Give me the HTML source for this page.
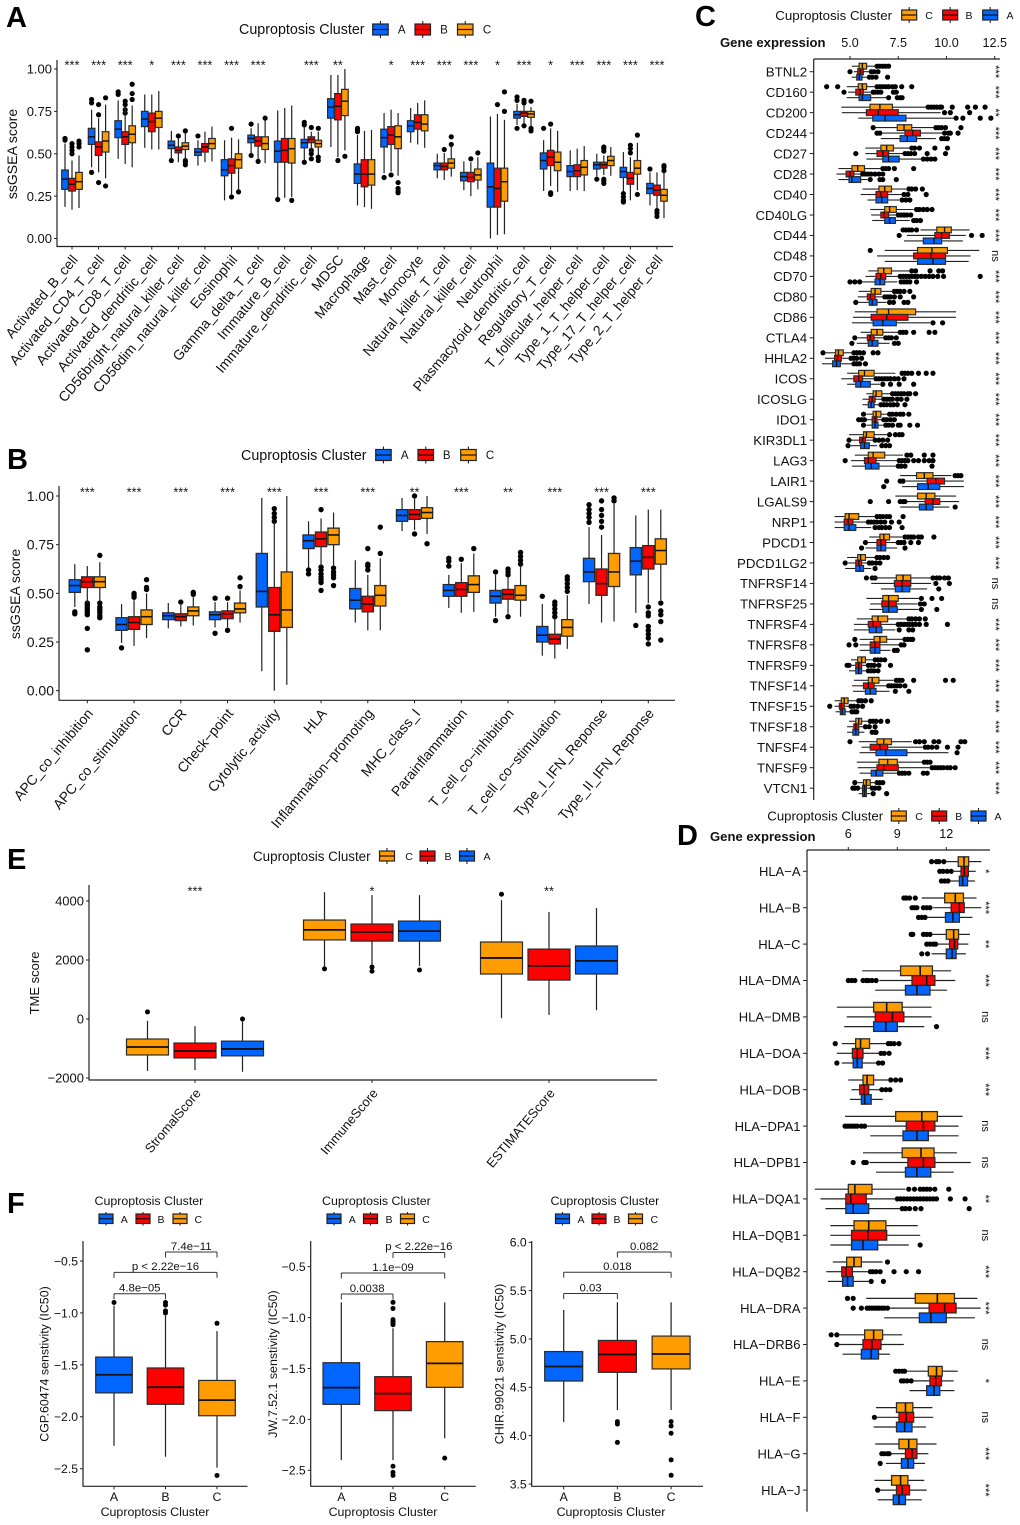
<!DOCTYPE html>
<html lang="en">
<head>
<meta charset="utf-8">
<title>Cuproptosis cluster immune landscape</title>
<style>
html,body{margin:0;padding:0;background:#fff;}
svg{display:block;font-family:"Liberation Sans",Arial,sans-serif;}
text{fill:#111;}
.letter{font-weight:700;font-size:29px;fill:#000;}
.lg14{font-size:14.3px;}
.lg13{font-size:13.3px;}
.lg12{font-size:12.4px;}
.lk11{font-size:11.5px;}
.lk10{font-size:10.5px;}
.gene{font-weight:700;font-size:13.1px;}
</style>
</head>
<body>
<svg id="fig" xmlns="http://www.w3.org/2000/svg" width="1020" height="1525" viewBox="0 0 1020 1525">
<rect x="0" y="0" width="1020" height="1525" fill="#fff"/>
<text class="letter" x="6" y="27">A</text>
<text class="letter" x="7" y="469">B</text>
<text class="letter" x="695" y="26">C</text>
<text class="letter" x="677" y="845">D</text>
<text class="letter" x="7" y="869">E</text>
<text class="letter" x="7" y="1213">F</text>

<g>
<text class="lg14" x="239" y="34">Cuproptosis Cluster</text>
<text class="lk11" x="401.7" y="33.5" text-anchor="middle">A</text>
<text class="lk11" x="444" y="33.5" text-anchor="middle">B</text>
<text class="lk11" x="487" y="33.5" text-anchor="middle">C</text>
</g>
<g>
<text class="lg14" x="241" y="460">Cuproptosis Cluster</text>
<text class="lk11" x="404.7" y="459" text-anchor="middle">A</text>
<text class="lk11" x="446.7" y="459" text-anchor="middle">B</text>
<text class="lk11" x="490" y="459" text-anchor="middle">C</text>
</g>
<g>
<text class="lg13" x="775.3" y="20">Cuproptosis Cluster</text>
<text class="lk10" x="929" y="19" text-anchor="middle">C</text>
<text class="lk10" x="969" y="19" text-anchor="middle">B</text>
<text class="lk10" x="1010" y="19" text-anchor="middle">A</text>
<text class="gene" x="720" y="47">Gene expression</text>
</g>
<g>
<text class="lg13" x="767.3" y="820.5" style="font-size:13.2px">Cuproptosis Cluster</text>
<text class="lk10" x="919" y="820" text-anchor="middle">C</text>
<text class="lk10" x="958.7" y="820" text-anchor="middle">B</text>
<text class="lk10" x="998" y="820" text-anchor="middle">A</text>
<text class="gene" x="710" y="841">Gene expression</text>
</g>
<g>
<text class="lg12" x="253" y="861" style="font-size:13.4px">Cuproptosis Cluster</text>
<text class="lk10" x="409" y="860" text-anchor="middle">C</text>
<text class="lk10" x="448" y="860" text-anchor="middle">B</text>
<text class="lk10" x="487" y="860" text-anchor="middle">A</text>
</g>
<g>
<text class="lg12" x="94.5" y="1205">Cuproptosis Cluster</text>
<text class="lk10" x="124.3" y="1223" text-anchor="middle">A</text>
<text class="lk10" x="161" y="1223" text-anchor="middle">B</text>
<text class="lk10" x="198.3" y="1223" text-anchor="middle">C</text>
<text class="lg12" x="155" y="1516" text-anchor="middle">Cuproptosis Cluster</text>
<text class="lg12" transform="translate(48.5 1364) rotate(-90)" text-anchor="middle">CGP.60474 senstivity (IC50)</text>
</g>
<g>
<text class="lg12" x="322" y="1205">Cuproptosis Cluster</text>
<text class="lk10" x="352.3" y="1223" text-anchor="middle">A</text>
<text class="lk10" x="389" y="1223" text-anchor="middle">B</text>
<text class="lk10" x="426" y="1223" text-anchor="middle">C</text>
<text class="lg12" x="383" y="1516" text-anchor="middle">Cuproptosis Cluster</text>
<text class="lg12" transform="translate(277 1364) rotate(-90)" text-anchor="middle">JW.7.52.1 senstivity (IC50)</text>
</g>
<g>
<text class="lg12" x="550.5" y="1205">Cuproptosis Cluster</text>
<text class="lk10" x="581" y="1223" text-anchor="middle">A</text>
<text class="lk10" x="617" y="1223" text-anchor="middle">B</text>
<text class="lk10" x="654.3" y="1223" text-anchor="middle">C</text>
<text class="lg12" x="611" y="1516" text-anchor="middle">Cuproptosis Cluster</text>
<text class="lg12" transform="translate(503.5 1364) rotate(-90)" text-anchor="middle">CHIR.99021 senstivity (IC50)</text>
</g>
<text transform="translate(17 154) rotate(-90)" text-anchor="middle" font-size="14">ssGSEA score</text>
<text transform="translate(20 594) rotate(-90)" text-anchor="middle" font-size="14">ssGSEA score</text>
<text transform="translate(39 983) rotate(-90)" text-anchor="middle" font-size="13">TME score</text>
</svg>
<script>
/* ---------- colours ---------- */
const BLUE = '#0066FF', RED = '#FF0000', ORANGE = '#FF9C00';

/* ---------- Panel A data: [low, q1, median, q3, high, outliers] ---------- */
const panelACategories = ['Activated_B_cell','Activated_CD4_T_cell','Activated_CD8_T_cell','Activated_dendritic_cell','CD56bright_natural_killer_cell','CD56dim_natural_killer_cell','Eosinophil','Gamma_delta_T_cell','Immature_B_cell','Immature_dendritic_cell','MDSC','Macrophage','Mast_cell','Monocyte','Natural_killer_T_cell','Natural_killer_cell','Neutrophil','Plasmacytoid_dendritic_cell','Regulatory_T_cell','T_follicular_helper_cell','Type_1_T_helper_cell','Type_17_T_helper_cell','Type_2_T_helper_cell'];
const panelASignificance = ['***','***','***','*','***','***','***','***','','***','**','','*','***','***','***','*','***','*','***','***','***','***'];
const panelATicks = [0,0.25,0.5,0.75,1];
const panelATickLabels = ['0.00','0.25','0.50','0.75','1.00'];
const panelAClusterA = [
[.187,.29,.35,.404,.56,[.59,.58]],[.42,.555,.60,.65,.76,[.82,.80,.39]],[.47,.595,.645,.695,.815,[.865,.85]],[.535,.66,.705,.75,.85],[.47,.53,.55,.575,.635,[.46]],[.43,.49,.51,.53,.58,[.605]],[.225,.37,.405,.465,.58],[.50,.565,.59,.61,.65,[.675,.49]],[.245,.45,.515,.575,.755,[.23]],[.46,.535,.565,.585,.66,[.685,.67,.45]],[.54,.71,.775,.825,.965],[.195,.325,.38,.44,.61,[.65,.64,.63]],[.385,.54,.595,.645,.74,[.36]],[.565,.63,.665,.695,.77],[.355,.405,.43,.445,.50],[.285,.34,.365,.39,.455],[0,.185,.305,.445,.72],[.67,.71,.73,.75,.795,[.835,.815,.65]],[.28,.41,.46,.505,.58,[.65]],[.28,.365,.395,.43,.52],[.365,.41,.435,.45,.50,[.35]],[.28,.36,.395,.42,.51,[.265,.245,.225,.215]],[.195,.265,.295,.325,.39,[.41]]];
const panelAClusterB = [
[.17,.28,.32,.355,.46,[.56,.54,.52,.50]],[.39,.49,.54,.57,.71,[.79,.73,.33]],[.44,.555,.60,.63,.77,[.81,.79,.76,.74]],[.525,.63,.69,.74,.85],[.45,.505,.52,.54,.59,[.605]],[.45,.51,.54,.56,.63],[.255,.385,.43,.47,.595,[.65,.245]],[.465,.545,.575,.60,.68,[.455]],[.24,.45,.52,.59,.77],[.51,.565,.585,.60,.63,[.655,.52,.50,.47]],[.48,.70,.78,.855,.965,[.46]],[.185,.305,.38,.465,.635],[.395,.555,.61,.66,.76,[.375]],[.555,.645,.685,.73,.80],[.345,.405,.425,.445,.505,[.525]],[.25,.335,.36,.39,.45,[.47]],[.02,.185,.295,.415,.735,[.79]],[.68,.72,.74,.75,.79,[.815,.80,.665]],[.31,.43,.48,.52,.65,[.675,.27,.26]],[.285,.365,.40,.435,.53],[.375,.415,.435,.45,.49,[.54,.53,.515,.35,.34,.325]],[.225,.32,.355,.39,.48,[.55,.53,.505]],[.175,.255,.285,.315,.39,[.165,.15,.13]]];
const panelAClusterC = [
[.18,.29,.335,.39,.49,[.575,.56,.54]],[.355,.51,.575,.63,.79,[.83,.31]],[.42,.565,.615,.665,.785,[.91,.855,.82]],[.525,.655,.71,.75,.87],[.465,.525,.545,.565,.62,[.635,.46,.45,.435]],[.455,.53,.56,.59,.66],[.285,.415,.465,.50,.585,[.275]],[.445,.525,.56,.60,.695,[.71]],[.245,.445,.53,.59,.785,[.225]],[.49,.54,.56,.58,.63,[.65,.48,.46]],[.52,.725,.81,.88,1.0,[.485]],[.175,.315,.38,.465,.64],[.37,.53,.60,.665,.74,[.33,.295,.28,.27]],[.535,.635,.675,.73,.815],[.365,.415,.445,.47,.55,[.60,.555]],[.29,.345,.375,.41,.48,[.505]],[.025,.22,.335,.415,.70,[.865,.75]],[.66,.715,.735,.75,.775,[.81,.65,.635]],[.275,.40,.45,.51,.635],[.28,.375,.42,.46,.545],[.37,.43,.46,.485,.54],[.285,.38,.415,.46,.565,[.61,.26]],[.12,.22,.255,.29,.39,[.43,.42,.40]]];

/* ---------- Panel B data ---------- */
const panelBCategories = ['APC_co_inhibition','APC_co_stimulation','CCR','Check\u2212point','Cytolytic_activity','HLA','Inflammation\u2212promoting','MHC_class_I','Parainflammation','T_cell_co\u2212inhibition','T_cell_co\u2212stimulation','Type_I_IFN_Reponse','Type_II_IFN_Reponse'];
const panelBSignificance = ['***','***','***','***','***','***','***','**','***','**','***','***','***'];
const panelBTicks = [0,0.25,0.5,0.75,1];
const panelBTickLabels = ['0.00','0.25','0.50','0.75','1.00'];
const panelBClusterA = [
[.43,.505,.54,.57,.65,[.405,.395]],[.245,.31,.34,.375,.445,[.22]],[.32,.365,.385,.40,.45],[.325,.365,.39,.405,.455,[.475,.295]],[.10,.43,.51,.705,.99],[.63,.73,.77,.80,.87,[.62,.60]],[.35,.42,.465,.525,.67],[.82,.87,.90,.93,.99],[.425,.485,.515,.545,.595,[.68,.665,.64]],[.38,.45,.485,.515,.595,[.61,.36]],[.18,.25,.285,.33,.445,[.485]],[.445,.56,.61,.68,.84,[.955,.93,.91,.89,.865]],[.40,.595,.665,.735,.90,[.335]]];
const panelBClusterB = [
[.45,.53,.56,.585,.64,[.45,.44,.43,.42,.41,.40,.39,.32,.21]],[.23,.315,.35,.38,.465,[.50,.49,.48]],[.33,.36,.38,.395,.44,[.455]],[.325,.37,.395,.41,.455,[.475,.31]],[0,.305,.39,.53,.86,[.935,.91,.89,.87]],[.64,.74,.78,.815,.885,[.93,.635,.62,.60,.585,.57,.555,.515]],[.31,.405,.445,.485,.595,[.73,.65,.64,.62]],[.825,.88,.905,.93,.985,[1.0,.805]],[.40,.485,.52,.555,.655,[.675]],[.395,.47,.495,.52,.585,[.625,.61,.595,.38]],[.165,.24,.265,.29,.37,[.455,.44,.42,.40,.38]],[.35,.49,.55,.625,.80,[.975,.93,.90,.87,.84]],[.45,.625,.685,.745,.93,[.43,.40,.385,.33,.31,.29,.27,.24]]];
const panelBClusterC = [
[.46,.53,.56,.585,.66,[.695,.45,.43,.42,.41,.40,.385,.375]],[.27,.34,.38,.415,.50,[.57,.53,.52]],[.335,.385,.41,.43,.48,[.505,.495]],[.35,.40,.42,.45,.515,[.58,.535]],[.03,.325,.415,.61,1.0],[.64,.75,.80,.835,.915,[.63,.61,.595,.58,.54]],[.31,.435,.49,.54,.68,[.84,.705]],[.805,.885,.915,.94,1.0,[.755]],[.405,.505,.545,.59,.705,[.73]],[.38,.465,.49,.54,.645,[.71,.69,.67,.65]],[.215,.28,.325,.365,.49,[.585,.57,.55,.53,.51]],[.355,.535,.61,.705,.96,[.99,.975]],[.465,.65,.72,.78,.93,[.45,.41,.39,.355,.26]]];

/* ---------- Panel C data ---------- */
const panelCGenes = ['BTNL2','CD160','CD200','CD244','CD27','CD28','CD40','CD40LG','CD44','CD48','CD70','CD80','CD86','CTLA4','HHLA2','ICOS','ICOSLG','IDO1','KIR3DL1','LAG3','LAIR1','LGALS9','NRP1','PDCD1','PDCD1LG2','TNFRSF14','TNFRSF25','TNFRSF4','TNFRSF8','TNFRSF9','TNFSF14','TNFSF15','TNFSF18','TNFSF4','TNFSF9','VTCN1'];
const panelCSignificance = ['***','***','**','***','***','***','***','***','***','ns','***','***','***','***','***','***','***','***','***','***','***','***','***','***','***','ns','ns','***','***','***','***','***','***','***','***','***'];
const panelCTicks = [5,7.5,10,12.5];
const panelCTickLabels = ['5.0','7.5','10.0','12.5'];
const panelCClusterC = [
[5.09,5.47,5.64,5.86,6.33,[6.4,6.55,6.7,6.85,7.0]],
[4.83,5.43,5.64,5.86,6.3,[3.79,4.36,6.4,6.55,6.7,6.85,7.0,7.2,7.35,7.68,8.2]],
[4.55,6.04,6.55,7.2,8.95,[9.05,9.2,9.35,9.5,9.65,9.75,10.3,11.1,11.5,12.0]],
[6.3,7.45,7.8,8.2,9.35,[6.2,9.45,9.6,9.75,9.95,10.75]],
[5.8,6.6,6.9,7.25,8.1,[8.2,8.35,8.6,9.4,10.05]],
[4.4,5.1,5.4,5.75,6.6,[6.7,6.85,7.0,7.3,8.3]],
[5.65,6.5,6.8,7.15,7.9,[8.05,8.2,8.4,8.75]],
[6.05,6.8,7.05,7.4,8.3,[8.45,8.6,8.8,9.0,9.25]],
[8.65,9.5,9.9,10.25,11.2,[7.75,7.9,8.05,8.2,8.45]],
[6.8,8.5,9.25,10.05,11.7,[6.05]],
[5.95,6.45,6.75,7.15,8.1,[8.2,8.4,9.15,9.6,9.8]],
[5.45,6.1,6.3,6.6,7.25,[7.3,7.45,7.6,7.8,8.1]],
[5.25,6.4,7.0,8.4,10.5],
[5.55,6.1,6.4,6.7,7.5,[7.6,7.75,7.9,8.3,9.1,9.4]],
[3.7,4.25,4.4,4.65,5.15,[3.6,5.2,5.35,5.5,5.7,6.2,6.45]],
[4.85,5.45,5.75,6.25,7.35,[7.7,7.85,8.0,8.2,8.55,8.95,9.3]],
[5.85,6.2,6.35,6.65,7.1,[7.2,7.35,7.5,7.65,7.8,8.0,8.1,8.4]],
[5.85,6.2,6.35,6.6,7.0,[5.7,7.05,7.2,7.4,7.6,7.75,8.05]],
[4.95,5.7,5.85,6.25,6.95,[7.05,7.35,7.55,7.7]],
[5.25,5.95,6.2,6.8,7.75,[7.95,8.15,8.85,9.3]],
[7.6,8.45,8.85,9.3,10.25,[10.45,10.6,10.75]],
[7.35,8.5,8.95,9.4,10.5],
[4.2,4.75,4.95,5.45,6.3,[6.4,6.55,6.7,6.9,7.05,7.75]],
[6.0,6.55,6.75,7.05,7.7,[7.85,8.0,8.15,8.3,8.55,8.7,9.35]],
[4.85,5.4,5.55,5.8,6.3,[6.4,6.55,6.75,6.95]],
[6.1,7.4,7.75,8.15,9.2,[5.85,6.15,6.3,9.3,9.5,9.65,9.9,10.1]],
[5.85,6.7,7.0,7.5,8.6,[8.7,9.25,9.75]],
[5.35,6.15,6.45,6.95,7.95,[8.05,8.2,8.4,8.6,8.9]],
[5.5,6.25,6.55,6.9,7.75,[5.25,7.85,8.0,8.15,8.25]],
[5.05,5.4,5.6,5.8,6.2,[6.3,6.45,6.6,6.8]],
[5.2,5.95,6.15,6.5,7.25,[7.4,7.55,7.7,8.3,9.95,10.35]],
[4.2,4.55,4.7,4.9,5.35,[5.45,5.6,5.8,6.1]],
[4.95,5.3,5.45,5.6,6.0,[6.05,6.2,6.35,6.6,6.95]],
[5.45,6.4,6.75,7.15,8.2,[5.0,8.4,8.6,8.85,9.35,9.6,10.75,10.95]],
[5.35,6.5,6.95,7.45,8.75,[8.85,9.0,9.15]],
[5.4,5.7,5.85,6.05,6.35,[5.25,6.4,6.55,6.7]]];
const panelCClusterB = [
[5.2,5.4,5.54,5.69,6.0,[5.0,6.1,6.25,6.45]],
[4.9,5.3,5.52,5.69,6.1,[4.69,6.2,6.3,6.45,6.6,7.25,7.4]],
[4.58,5.85,6.47,7.5,9.7,[9.9,10.2,11.2]],
[6.7,7.85,8.25,8.65,9.8,[6.4,6.55,9.9,10.1,10.2,10.6]],
[5.8,6.4,6.7,7.0,7.75,[5.3,7.85,8.0,8.15,8.35,9.0,9.95]],
[4.3,4.8,5.0,5.2,5.6,[5.65,5.8,5.95,6.1,6.3,6.5,6.7]],
[5.55,6.35,6.6,6.95,7.7,[7.8,8.0,8.95]],
[6.1,6.6,6.75,7.0,7.4,[7.5,7.65,7.8,7.95,8.15]],
[7.95,9.4,9.75,10.15,11.0,[7.55,11.3,11.85]],
[6.4,8.3,9.2,9.95,11.25],
[5.8,6.35,6.6,6.85,7.5,[7.6,7.75,7.9,8.05,8.2,8.35,8.5,8.7,8.9,9.1,9.3,9.55,9.85,11.75]],
[5.4,5.9,6.05,6.3,6.7,[6.8,6.95,7.1,7.3,7.6,8.3]],
[5.15,6.1,6.9,8.0,10.5],
[5.4,5.9,6.05,6.25,6.7,[5.25,6.85,7.0,7.15,7.4]],
[3.7,4.2,4.35,4.55,4.95,[5.05,5.2,5.35,5.6]],
[4.55,5.2,5.45,5.65,6.25,[6.35,6.5,6.65,6.8,6.95,7.1,7.3,7.5,7.8]],
[5.65,6.0,6.15,6.3,6.65,[6.75,6.9,7.05,7.2,7.45,7.65,7.95]],
[5.85,6.15,6.3,6.4,6.65,[5.45,5.6,5.75,6.75,6.9,7.1,7.3]],
[5.05,5.5,5.65,5.8,6.25,[4.95,6.3,6.5,6.7,6.95]],
[5.05,5.75,5.95,6.35,7.5,[4.75,7.55,7.7,7.85,8.0,8.3,8.55,8.85,9.1,9.3]],
[7.9,9.0,9.45,9.9,10.9,[6.9,7.6,7.75]],
[7.95,8.9,9.3,9.65,10.65,[6.05,7.0,7.6,7.75,7.85]],
[4.2,4.7,4.9,5.15,5.85,[5.95,6.1,6.25,6.4,6.6,6.8,7.15,7.55]],
[5.9,6.4,6.6,6.85,7.4,[5.8,7.5,7.65,7.8,8.15,8.55]],
[4.9,5.3,5.45,5.6,5.95,[4.75,6.0,6.15,6.35,6.55]],
[6.1,7.3,7.7,8.15,9.2,[9.45,10.15]],
[6.05,6.65,7.0,7.4,8.5,[8.65,8.85]],
[5.2,5.95,6.2,6.6,7.4,[7.5,7.65,7.8,7.95,8.1,8.25,8.4,8.6,8.95,10.05]],
[5.5,6.05,6.3,6.55,7.55,[4.95,5.3,7.65,7.8]],
[5.0,5.3,5.45,5.6,5.85,[4.85,4.95,5.95,6.1,6.25,6.5,7.1]],
[5.1,5.7,5.95,6.25,6.9,[7.0,7.15,7.3,7.45,7.6,7.85]],
[4.2,4.45,4.55,4.7,4.95,[3.95,5.05,5.2,5.4,5.65]],
[4.85,5.2,5.3,5.45,5.7,[5.8,6.0,6.3]],
[5.6,6.05,6.55,6.95,8.75,[8.9,9.05,9.25,9.5,10.05,10.6]],
[5.4,6.4,6.75,7.5,9.1,[9.25,9.4,9.55,9.7,9.85,10.05,10.2,10.45]],
[5.45,5.65,5.75,5.85,6.05,[5.15,5.25,5.4,6.15,6.3,6.5]]];
const panelCClusterA = [
[5.09,5.35,5.48,5.62,5.95,[6.0,6.15,6.35,6.95]],
[4.83,5.47,5.64,6.07,6.9,[7.0,7.45,7.6,7.7]],
[5.43,6.18,6.82,7.9,10.4,[10.5,10.85,11.75,12.3]],
[6.6,7.6,7.97,8.45,9.45,[9.75,9.9,10.05]],
[5.85,6.7,7.0,7.55,8.7,[8.8,9.0,9.2,9.4]],
[4.4,4.95,5.1,5.55,5.9,[6.05,6.55,6.7,7.4]],
[5.9,6.35,6.65,6.95,7.55,[7.7,7.9,8.1]],
[6.15,6.8,7.05,7.35,8.1,[8.3,8.45,8.65]],
[7.8,8.8,9.35,9.75,10.85],
[6.8,8.5,9.3,9.95,11.15],
[5.6,6.3,6.55,6.8,7.45,[5.0,5.25,5.5,7.65,7.8,7.95,8.1,8.45]],
[5.4,6.0,6.15,6.4,6.9,[5.3,7.05,7.25,7.8,8.0]],
[5.1,6.2,6.7,7.4,9.15,[9.3,9.8]],
[5.35,5.95,6.15,6.45,7.05,[5.1,7.3,7.5]],
[3.55,4.1,4.3,4.5,5.1,[5.2,5.35,5.5,5.8]],
[4.85,5.3,5.55,6.05,6.55,[6.7,7.1,7.55,8.3]],
[5.65,5.95,6.1,6.25,6.55,[6.6,6.75,6.9,7.1,7.25,7.45,7.85]],
[5.85,6.15,6.3,6.45,6.7,[5.7,6.85,7.0,7.2,7.5,7.6,8.1,8.5]],
[5.05,5.55,5.75,6.0,6.4,[4.9,6.65,6.85,7.05]],
[5.1,5.8,6.1,6.5,7.4,[7.5,7.65,7.85,9.25]],
[7.7,8.5,9.05,9.65,10.9,[6.75]],
[7.6,8.6,8.95,9.3,10.15,[10.45]],
[4.2,4.7,4.95,5.3,6.1,[6.3,6.5,6.65,6.85,7.05,7.7]],
[5.8,6.4,6.6,6.85,7.45,[5.6,7.85]],
[4.75,5.3,5.5,5.7,6.1,[6.3]],
[6.6,7.35,7.7,8.1,9.0,[9.6]],
[6.0,6.7,7.0,7.45,8.55,[8.7,9.5]],
[5.2,6.0,6.35,6.65,7.35,[7.55,8.05,8.25]],
[5.5,6.05,6.3,6.55,7.1,[7.3,7.45]],
[4.95,5.3,5.45,5.6,5.85,[5.95,6.1,6.25,6.45]],
[5.15,5.8,6.05,6.35,7.05,[7.35,8.05]],
[4.25,4.5,4.6,4.75,5.0,[5.1,5.25,5.35]],
[4.85,5.15,5.3,5.45,5.75,[6.15,6.3,6.35]],
[5.5,6.35,6.85,7.95,10.1,[10.55]],
[5.5,6.1,6.35,6.7,7.4,[7.55,7.7,7.85,8.05,8.8,9.0]],
[5.45,5.65,5.75,5.85,6.1,[6.2,6.9]]];

/* ---------- Panel D data ---------- */
const panelDGenes = ['HLA\u2212A','HLA\u2212B','HLA\u2212C','HLA\u2212DMA','HLA\u2212DMB','HLA\u2212DOA','HLA\u2212DOB','HLA\u2212DPA1','HLA\u2212DPB1','HLA\u2212DQA1','HLA\u2212DQB1','HLA\u2212DQB2','HLA\u2212DRA','HLA\u2212DRB6','HLA\u2212E','HLA\u2212F','HLA\u2212G','HLA\u2212J'];
const panelDSignificance = ['*','***','**','***','ns','***','***','ns','ns','**','ns','***','***','ns','*','ns','***','***'];
const panelDTicks = [6,9,12];
const panelDTickLabels = ['6','9','12'];
const panelDClusterC = [
[11.95,12.73,13.08,13.37,14.15,[11.1,11.4,11.55,11.85]],
[10.5,11.9,12.55,13.05,13.85,[9.4,9.55,9.75,10.1]],
[11.1,12.0,12.45,12.75,13.45,[9.85,9.95,10.6,10.8,11.0]],
[6.85,9.2,10.4,11.15,12.3],
[5.3,7.55,8.35,9.3,11.1],
[5.6,6.45,6.75,7.3,8.35,[5.2,8.45,8.6,8.8,9.1]],
[6.0,6.9,7.15,7.55,8.55,[8.6,8.9,9.2]],
[5.8,8.9,10.5,11.45,13.0],
[6.9,9.3,10.45,11.25,12.65],
[3.95,6.0,6.4,7.45,9.5,[9.7,10.05,10.4,10.6,10.8,11.0,11.3,12.15]],
[4.9,6.35,7.25,8.3,10.25],
[5.05,5.9,6.35,6.8,8.1,[8.4]],
[7.1,10.1,11.45,12.5,13.9,[5.95,6.3]],
[5.4,7.0,7.55,8.1,9.3,[4.95,5.3]],
[9.6,10.9,11.4,11.75,12.7,[8.9,9.1,9.3,9.45]],
[7.7,8.95,9.5,9.95,11.15],
[7.65,9.1,9.7,10.2,11.4],
[7.6,8.65,9.2,9.65,10.65]];
const panelDClusterB = [
[12.35,12.9,13.1,13.35,13.8,[11.6,11.8,12.05,12.3]],
[11.2,12.3,12.8,13.1,14.15,[9.9,10.05,10.2,10.6,10.8,11.0]],
[11.45,12.2,12.5,12.7,13.35,[10.8,11.0,11.2,11.35]],
[7.9,9.9,10.8,11.3,12.55,[6.0,6.2,6.4,6.9,7.1,7.25,7.45,7.7]],
[5.9,7.65,8.7,9.4,11.1],
[5.3,6.25,6.55,6.9,7.85,[8.0,8.2,8.5]],
[6.2,6.7,6.95,7.25,7.95,[8.05,8.3,8.55]],
[7.1,9.55,10.6,11.3,12.75,[5.8,5.95,6.1,6.25,6.4,6.55,6.8,7.0]],
[7.3,9.65,10.6,11.3,13.5,[6.3,6.95,7.1]],
[4.3,5.85,6.15,7.1,8.95,[9.0,9.2,9.4,9.6,9.8,10.0,10.2,10.4,10.6,10.8,11.0,11.2,11.4,12.25,13.15]],
[4.9,6.2,7.2,8.35,10.4],
[4.65,5.6,5.85,6.25,7.2,[7.35,7.5,7.7,7.95,8.8,9.55,10.3]],
[8.55,10.95,11.9,12.6,14.1,[6.3,6.8,7.15,7.3,7.45,7.6,7.75,7.9,8.05,8.2,8.4]],
[5.4,6.9,7.45,8.0,9.4,[5.3]],
[10.0,11.0,11.35,11.7,12.45,[9.25,9.4,9.6,9.85]],
[7.75,9.1,9.55,10.0,11.2,[7.6]],
[8.55,9.5,9.9,10.2,10.9,[8.05,8.2,8.4,8.5]],
[7.9,8.95,9.3,9.75,10.8,[7.8]]];
const panelDClusterA = [
[12.25,12.8,13.0,13.3,13.75,[11.7,11.9,12.1]],
[10.8,11.95,12.4,12.8,13.6,[10.3,10.5,10.7]],
[11.1,12.0,12.35,12.6,13.2,[10.5,10.85]],
[7.65,9.5,10.2,11.0,12.05],
[5.75,7.55,8.3,9.0,10.65,[11.4]],
[5.6,6.3,6.55,6.85,7.7,[5.3,7.85,8.1]],
[6.1,6.8,7.0,7.4,8.1],
[7.35,9.35,10.2,10.9,12.75],
[7.7,9.5,10.2,11.05,12.45],
[4.6,5.85,6.3,7.25,9.15,[9.3,9.5,9.75,10.1,10.45,13.4]],
[4.9,6.2,6.9,7.8,9.7,[10.4]],
[4.75,5.65,5.95,6.3,7.25,[7.4,8.15]],
[8.2,10.35,11.05,12.0,13.75],
[5.65,6.8,7.4,7.85,8.55],
[9.75,10.8,11.25,11.6,12.5],
[7.55,8.95,9.45,9.9,10.75],
[8.3,9.25,9.65,10.0,10.7,[7.95]],
[7.8,8.75,9.1,9.5,10.5]];

/* ---------- Panel E data ---------- */
const panelECategories = ['StromalScore','ImmuneScore','ESTIMATEScore'];
const panelESignificance = ['***','*','**'];
const panelETicks = [-2000,0,2000,4000];
const panelETickLabels = ['\u22122000','0','2000','4000'];
const panelEClusterC = [[-1760,-1220,-950,-678,-60,[240]],[1760,2680,3020,3355,4300,[1700]],[30,1525,2070,2610,4030,[4230]]];
const panelEClusterB = [[-1730,-1320,-1085,-815,-240],[1830,2640,2950,3220,4200,[1760,1620]],[135,1320,1800,2370,3630]];
const panelEClusterA = [[-1790,-1250,-1015,-750,-70,[0]],[1800,2640,2980,3320,4200,[1660]],[300,1525,1970,2475,3760]];

/* ---------- Panel F data ---------- */
const panelFGroups = ['A','B','C'];
const panelF1Ticks = [-0.5,-1,-1.5,-2,-2.5];
const panelF1TickLabels = ['\u22120.5','\u22121.0','\u22121.5','\u22122.0','\u22122.5'];
const panelF1Boxes = [[-2.28,-1.77,-1.595,-1.425,-.93,[-.90]],[-2.385,-1.88,-1.715,-1.53,-1.02,[-.90,-.925,-.98,-1.0]],[-2.49,-1.99,-1.84,-1.65,-1.175,[-1.10,-2.565]]];
const panelF1Brackets = [[0,1,-.815,'4.8e\u221205'],[0,2,-.61,'p < 2.22e\u221216'],[1,2,-.413,'7.4e\u221211']];
const panelF2Ticks = [-0.5,-1,-1.5,-2,-2.5];
const panelF2TickLabels = ['\u22120.5','\u22121.0','\u22121.5','\u22122.0','\u22122.5'];
const panelF2Boxes = [[-2.4,-1.852,-1.688,-1.443,-.85],[-2.4,-1.914,-1.747,-1.58,-1.105,[-.85,-.91,-1.02,-1.04,-1.055,-1.07,-2.46,-2.52,-2.55]],[-2.185,-1.685,-1.45,-1.236,-.85,[-2.38]]];
const panelF2Brackets = [[0,1,-.768,'0.0038'],[0,2,-.562,'1.1e\u221209'],[1,2,-.36,'p < 2.22e\u221216']];
const panelF3Ticks = [3.5,4,4.5,5,5.5,6];
const panelF3TickLabels = ['3.5','4.0','4.5','5.0','5.5','6.0'];
const panelF3Boxes = [[4.14,4.565,4.715,4.87,5.30],[4.265,4.655,4.84,4.985,5.38,[4.145,4.12,3.93]],[4.265,4.69,4.845,5.03,5.38,[4.145,4.10,4.025,3.75,3.59]]];
const panelF3Brackets = [[0,1,5.47,'0.03'],[0,2,5.69,'0.018'],[1,2,5.90,'0.082']];

/* ---------- helpers ---------- */
const fig = document.getElementById('fig');
const NS = 'http://www.w3.org/2000/svg';
function linear(d0, d1, r0, r1){ return v => r0 + (v - d0) * (r1 - r0) / (d1 - d0); }
function make(tag, parent, attrs){
  const el = document.createElementNS(NS, tag);
  for (const k in attrs) el.setAttribute(k, attrs[k]);
  parent.appendChild(el);
  return el;
}
function seg(parent, x1, y1, x2, y2, width, color, name){
  const el = make('line', parent, {x1, y1, x2, y2, stroke: color, 'stroke-width': width});
  
  
  return el;
}
function label(parent, x, y, str, size, anchor, name, transform){
  const el = make('text', parent, {x, y, 'font-size': size, 'text-anchor': anchor});
  if (transform) el.setAttribute('transform', transform);
  el.textContent = str;
  
  
  return el;
}
function drawBox(parent, stats, center, half, scale, fill, horizontal, st, name){
  const g = make('g', parent, {});
  
  
  const lo = scale(stats[0]), q1 = scale(stats[1]), med = scale(stats[2]), q3 = scale(stats[3]), hi = scale(stats[4]);
  const outs = stats[5] || [];
  outs.forEach(v => {
    const p = scale(v);
    const dot = make('circle', g, {cx: horizontal ? p : center, cy: horizontal ? center : p, r: st.r, fill: '#000'});
    
    
  });
  if (horizontal){
    seg(g, lo, center, q1, center, st.whisker, '#222', 'whisker-low');
    seg(g, q3, center, hi, center, st.whisker, '#222', 'whisker-high');
  } else {
    seg(g, center, lo, center, q1, st.whisker, '#222', 'whisker-low');
    seg(g, center, q3, center, hi, st.whisker, '#222', 'whisker-high');
  }
  const a = Math.min(q1, q3), len = Math.abs(q3 - q1);
  const rect = make('rect', g, horizontal
    ? {x: a, y: center - half, width: len, height: half * 2, fill, stroke: '#2a2a2a', 'stroke-width': st.outline}
    : {x: center - half, y: a, width: half * 2, height: len, fill, stroke: '#2a2a2a', 'stroke-width': st.outline});
  
  
  if (horizontal) seg(g, med, center - half, med, center + half, st.median, '#111', 'median-line');
  else seg(g, center - half, med, center + half, med, st.median, '#111', 'median-line');
}
function legendKey(x, y, w, h, stub, fill, name){
  const g = make('g', fig, {});
  
  
  seg(g, x + w / 2, y - stub, x + w / 2, y + h + stub, 1.1, '#222', 'legend-key-whisker');
  const r = make('rect', g, {x, y, width: w, height: h, fill, stroke: '#222', 'stroke-width': 1.2});
  
  
  seg(g, x, y + h / 2, x + w, y + h / 2, 1.2, '#111', 'legend-key-median');
}
function starsRow(parent, x, y, str, size, name){
  label(parent, x, y + 0.58 * size, str, size, 'middle', name);
}
function rotatedSig(parent, baseX, y, str, name){
  label(parent, baseX, y, str, 11, 'middle', name, 'rotate(90 ' + baseX + ' ' + y + ')');
}

/* ---------- vertical grouped panels ---------- */
function verticalPanel(cfg){
  const g = make('g', fig, {});
  
  
  cfg.categories.forEach((cat, i) => {
    cfg.series.forEach((s, j) => {
      drawBox(g, s.data[i], cfg.x(i) + cfg.offsets[j], cfg.half, cfg.y, s.fill, false, cfg.style, 'box-' + s.key + '-' + i);
    });
    if (cfg.sig[i]) starsRow(g, cfg.sigX ? cfg.sigX(i) : cfg.x(i), cfg.sigY, cfg.sig[i], cfg.sigSize, 'significance-label');
    seg(g, cfg.x(i), cfg.axisY, cfg.x(i), cfg.axisY + 3, 1, '#222', 'x-tick');
    const lx = cfg.x(i) + 6.5, ly = cfg.axisY + 13.5;
    label(g, lx, ly, cat, cfg.catSize, 'end', 'x-tick-label', 'rotate(' + cfg.angle + ' ' + lx + ' ' + ly + ')');
  });
  seg(g, cfg.axisX, cfg.axisTop, cfg.axisX, cfg.axisY + 0.5, 1.2, '#222', 'y-axis-line');
  seg(g, cfg.axisX, cfg.axisY, cfg.axisRight, cfg.axisY, 1.2, '#222', 'x-axis-line');
  cfg.ticks.forEach((t, i) => {
    seg(g, cfg.axisX - 3, cfg.y(t), cfg.axisX, cfg.y(t), 1, '#222', 'y-tick');
    label(g, cfg.axisX - 5, cfg.y(t) + cfg.tickSize * 0.36, cfg.tickLabels[i], cfg.tickSize, 'end', 'y-tick-label');
  });
}

const yA = linear(0, 1, 238.5, 69);
verticalPanel({name: 'panel-a-boxplot', categories: panelACategories, sig: panelASignificance,
  series: [{key: 'a', fill: BLUE, data: panelAClusterA}, {key: 'b', fill: RED, data: panelAClusterB}, {key: 'c', fill: ORANGE, data: panelAClusterC}],
  x: i => 72 + 26.59 * i, y: yA, offsets: [-7, 0, 7], half: 3.3, style: {r: 2.6, whisker: 1.2, outline: 1.2, median: 1.5},
  sigY: 62, sigSize: 12.8, axisX: 57, axisTop: 60, axisY: 246.5, axisRight: 673, ticks: panelATicks, tickLabels: panelATickLabels, tickSize: 13, catSize: 14, angle: -50});

const yB = linear(0, 1, 690.7, 496);
verticalPanel({name: 'panel-b-boxplot', categories: panelBCategories, sig: panelBSignificance,
  series: [{key: 'a', fill: BLUE, data: panelBClusterA}, {key: 'b', fill: RED, data: panelBClusterB}, {key: 'c', fill: ORANGE, data: panelBClusterC}],
  x: i => 87.3 + 46.75 * i, y: yB, offsets: [-12.5, 0, 12.5], half: 5.6, style: {r: 2.7, whisker: 1.2, outline: 1.3, median: 1.6},
  sigY: 489, sigSize: 12.8, axisX: 59, axisTop: 486, axisY: 700.3, axisRight: 675, ticks: panelBTicks, tickLabels: panelBTickLabels, tickSize: 14, catSize: 14, angle: -50});

const yE = linear(0, 4000, 1019, 901);
verticalPanel({name: 'panel-e-boxplot', categories: panelECategories, sig: panelESignificance,
  series: [{key: 'c', fill: ORANGE, data: panelEClusterC}, {key: 'b', fill: RED, data: panelEClusterB}, {key: 'a', fill: BLUE, data: panelEClusterA}],
  x: i => 195 + 177 * i, y: yE, offsets: [-47.5, 0, 47.5], half: 21, style: {r: 2.5, whisker: 1.2, outline: 1.2, median: 1.8},
  sigY: 888, sigSize: 12.8, axisX: 89, axisTop: 885, axisY: 1080, axisRight: 657, ticks: panelETicks, tickLabels: panelETickLabels, tickSize: 13, catSize: 13, angle: -50});

/* ---------- horizontal panels ---------- */
function horizontalPanel(cfg){
  const g = make('g', fig, {});
  
  
  cfg.genes.forEach((gene, i) => {
    cfg.series.forEach((s, j) => {
      drawBox(g, s.data[i], cfg.y(i) + cfg.offsets[j], cfg.half, cfg.x, s.fill, true, cfg.style, 'box-' + s.key + '-' + i);
    });
    seg(g, cfg.axisX - 4, cfg.y(i), cfg.axisX, cfg.y(i), 1, '#222', 'y-tick');
    label(g, cfg.axisX - 6.5, cfg.y(i) + cfg.geneSize * 0.36, gene, cfg.geneSize, 'end', 'gene-label');
    rotatedSig(g, cfg.sigBase, cfg.y(i), cfg.sig[i], 'significance-label');
  });
  seg(g, cfg.axisX, cfg.axisTop, cfg.axisX, cfg.axisBottom, 1.2, '#222', 'y-axis-line');
  seg(g, cfg.axisX, cfg.axisTop, cfg.axisRight, cfg.axisTop, 1.2, '#222', 'x-axis-line');
  cfg.ticks.forEach((t, i) => {
    seg(g, cfg.x(t), cfg.axisTop - 3, cfg.x(t), cfg.axisTop, 1, '#222', 'x-tick');
    label(g, cfg.x(t), cfg.axisTop - 12, cfg.tickLabels[i], 12.6, 'middle', 'x-tick-label');
  });
}
horizontalPanel({name: 'panel-c-boxplot', genes: panelCGenes, sig: panelCSignificance,
  series: [{key: 'c', fill: ORANGE, data: panelCClusterC}, {key: 'b', fill: RED, data: panelCClusterB}, {key: 'a', fill: BLUE, data: panelCClusterA}],
  x: linear(5, 12.5, 850, 994.7), y: i => 71.7 + 20.47 * i, offsets: [-5.5, 0, 5.5], half: 2.9,
  style: {r: 2.6, whisker: 1.1, outline: 1.2, median: 1.4}, sigBase: 992, axisX: 813.7, axisTop: 59, axisBottom: 800, axisRight: 1000,
  ticks: panelCTicks, tickLabels: panelCTickLabels, geneSize: 13.3});
horizontalPanel({name: 'panel-d-boxplot', genes: panelDGenes, sig: panelDSignificance,
  series: [{key: 'c', fill: ORANGE, data: panelDClusterC}, {key: 'b', fill: RED, data: panelDClusterB}, {key: 'a', fill: BLUE, data: panelDClusterA}],
  x: linear(6, 12, 848.3, 946.3), y: i => 871.3 + 36.4 * i, offsets: [-9.7, 0, 9.7], half: 4.8,
  style: {r: 2.6, whisker: 1.2, outline: 1.3, median: 1.6}, sigBase: 982, axisX: 807, axisTop: 850, axisBottom: 1511.7, axisRight: 990,
  ticks: panelDTicks, tickLabels: panelDTickLabels, geneSize: 13});

/* ---------- panel F ---------- */
function drugPanel(cfg){
  const g = make('g', fig, {});
  
  
  const fills = [BLUE, RED, ORANGE];
  panelFGroups.forEach((grp, i) => {
    drawBox(g, cfg.boxes[i], cfg.x(i), cfg.half, cfg.y, fills[i], false, {r: 2.5, whisker: 1.2, outline: 1.2, median: 1.8}, 'box-' + grp);
    seg(g, cfg.x(i), 1486.3, cfg.x(i), 1489.3, 1, '#222', 'x-tick');
    label(g, cfg.x(i), 1501, grp, 12.3, 'middle', 'x-tick-label');
  });
  seg(g, cfg.axisX, 1241, cfg.axisX, 1486.8, 1.2, '#222', 'y-axis-line');
  seg(g, cfg.axisX, 1486.3, cfg.right, 1486.3, 1.2, '#222', 'x-axis-line');
  cfg.ticks.forEach((t, i) => {
    seg(g, cfg.axisX - 3, cfg.y(t), cfg.axisX, cfg.y(t), 1, '#222', 'y-tick');
    label(g, cfg.axisX - 5, cfg.y(t) + 4.4, cfg.tickLabels[i], 12.2, 'end', 'y-tick-label');
  });
  cfg.brackets.forEach(b => {
    const x0 = cfg.x(b[0]), x1 = cfg.x(b[1]), yy = cfg.y(b[2]);
    seg(g, x0, yy, x1, yy, 1, '#333', 'bracket-bar');
    seg(g, x0, yy, x0, yy + 5.5, 1, '#333', 'bracket-tip');
    seg(g, x1, yy, x1, yy + 5.5, 1, '#333', 'bracket-tip');
    label(g, (x0 + x1) / 2, yy - 2.2, b[3], 11.4, 'middle', 'p-value-label');
  });
}
drugPanel({name: 'panel-f-cgp60474', boxes: panelF1Boxes, brackets: panelF1Brackets, ticks: panelF1Ticks, tickLabels: panelF1TickLabels,
  x: i => 114 + 51.5 * i, y: linear(-0.5, -2.5, 1261, 1468.7), half: 18.3, axisX: 83, right: 247.5});
drugPanel({name: 'panel-f-jw7521', boxes: panelF2Boxes, brackets: panelF2Brackets, ticks: panelF2Ticks, tickLabels: panelF2TickLabels,
  x: i => 341.3 + 51.7 * i, y: linear(-0.5, -2.5, 1266.7, 1470.3), half: 18.3, axisX: 310.7, right: 475.7});
drugPanel({name: 'panel-f-chir99021', boxes: panelF3Boxes, brackets: panelF3Brackets, ticks: panelF3Ticks, tickLabels: panelF3TickLabels,
  x: i => 563.7 + 53.7 * i, y: linear(3.5, 6, 1484, 1242.3), half: 19, axisX: 531.7, right: 703});

/* ---------- legend keys ---------- */
legendKey(372.7, 24, 15.5, 11, 3, BLUE, 'legend-key-a-cluster-a');
legendKey(415, 24, 15.5, 11, 3, RED, 'legend-key-a-cluster-b');
legendKey(457.5, 24, 15.5, 11, 3, ORANGE, 'legend-key-a-cluster-c');
legendKey(375.7, 449.5, 15.5, 11, 3, BLUE, 'legend-key-b-cluster-a');
legendKey(418, 449.5, 15.5, 11, 3, RED, 'legend-key-b-cluster-b');
legendKey(460.7, 449.5, 15.5, 11, 3, ORANGE, 'legend-key-b-cluster-c');
legendKey(901.7, 10, 15, 10, 3, ORANGE, 'legend-key-c-cluster-c');
legendKey(942.7, 10, 15, 10, 3, RED, 'legend-key-c-cluster-b');
legendKey(982.7, 10, 15, 10, 3, BLUE, 'legend-key-c-cluster-a');
legendKey(891.3, 811, 15, 10, 3, ORANGE, 'legend-key-d-cluster-c');
legendKey(931.7, 811, 15, 10, 3, RED, 'legend-key-d-cluster-b');
legendKey(971, 811, 15, 10, 3, BLUE, 'legend-key-d-cluster-a');
legendKey(379.5, 851, 15, 10, 3, ORANGE, 'legend-key-e-cluster-c');
legendKey(420, 851, 15, 10, 3, RED, 'legend-key-e-cluster-b');
legendKey(459.5, 851, 15, 10, 3, BLUE, 'legend-key-e-cluster-a');
legendKey(99, 1214, 14, 9.5, 2, BLUE, 'legend-key-f1-cluster-a');
legendKey(136, 1214, 14, 9.5, 2, RED, 'legend-key-f1-cluster-b');
legendKey(173, 1214, 14, 9.5, 2, ORANGE, 'legend-key-f1-cluster-c');
legendKey(327, 1214, 14, 9.5, 2, BLUE, 'legend-key-f2-cluster-a');
legendKey(363.5, 1214, 14, 9.5, 2, RED, 'legend-key-f2-cluster-b');
legendKey(400.5, 1214, 14, 9.5, 2, ORANGE, 'legend-key-f2-cluster-c');
legendKey(555.5, 1214, 14, 9.5, 2, BLUE, 'legend-key-f3-cluster-a');
legendKey(592, 1214, 14, 9.5, 2, RED, 'legend-key-f3-cluster-b');
legendKey(628.5, 1214, 14, 9.5, 2, ORANGE, 'legend-key-f3-cluster-c');
</script>
</body>
</html>
